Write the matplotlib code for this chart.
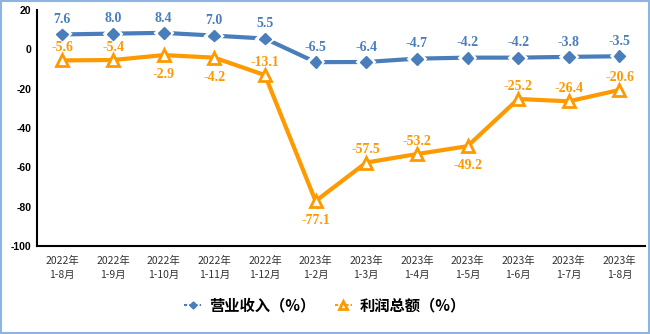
import matplotlib
matplotlib.use("Agg")
import matplotlib.pyplot as plt
import matplotlib.patheffects as pe
from matplotlib.patches import Rectangle

plt.rcParams['font.family'] = ['Noto Sans CJK SC', 'DejaVu Sans']

# data
months = ["2022年\n1-8月", "2022年\n1-9月", "2022年\n1-10月", "2022年\n1-11月", "2022年\n1-12月",
          "2023年\n1-2月", "2023年\n1-3月", "2023年\n1-4月", "2023年\n1-5月", "2023年\n1-6月",
          "2023年\n1-7月", "2023年\n1-8月"]
revenue = [7.6, 8.0, 8.4, 7.0, 5.5, -6.5, -6.4, -4.7, -4.2, -4.2, -3.8, -3.5]
profit = [-5.6, -5.4, -2.9, -4.2, -13.1, -77.1, -57.5, -53.2, -49.2, -25.2, -26.4, -20.6]
# where the profit label sits: 1 above, -1 below
profit_pos = [1, 1, -1, -1, 1, -1, 1, 1, -1, 1, 1, 1]

blue = "#4A7EBB"
orange = "#FF9900"

fig = plt.figure(figsize=(6.5, 3.34), dpi=100)
ax = fig.add_axes([0.057, 0.263, 0.935, 0.707])

x = list(range(len(months)))
ax.plot(x, revenue, color=blue, lw=3, marker="D", ms=6, mfc=blue, mec=blue,
        path_effects=[pe.Stroke(linewidth=4.5, foreground="white"), pe.Normal()], zorder=3,
        label="营业收入（%）")
ax.plot(x, profit, color=orange, lw=3, marker="^", ms=9, mfc="white", mec=orange, mew=2,
        zorder=3, label="利润总额（%）")

for i, v in enumerate(revenue):
    ax.annotate(f"{v:.1f}", (i, v), xytext=(0, 6), textcoords="offset points",
                ha="center", va="bottom", color=blue, fontsize=10, fontweight="bold",
                family="Liberation Serif", zorder=4)
for i, v in enumerate(profit):
    off = 4.5 if profit_pos[i] > 0 else -9.5
    ax.annotate(f"{v:.1f}", (i, v), xytext=(0, off), textcoords="offset points",
                ha="center", va="bottom" if off > 0 else "top", color=orange,
                fontsize=10, fontweight="bold", family="Liberation Serif", zorder=4)

ax.set_xlim(-0.5, len(months) - 0.5)
ax.set_ylim(-100, 20)
ax.set_yticks(range(-100, 21, 20))
ax.set_yticklabels([str(t) for t in range(-100, 21, 20)], fontsize=7.5, fontweight="bold",
                   family="Liberation Sans")
ax.set_xticks(x)
ax.set_xticklabels(months, fontsize=7.5, color="#333333", linespacing=1.5)
ax.tick_params(axis="both", length=0, pad=4)
ax.tick_params(axis="x", pad=7)

for s in ["top", "right"]:
    ax.spines[s].set_visible(False)
for s in ["left", "bottom"]:
    ax.spines[s].set_linewidth(1.5)
    ax.spines[s].set_color("black")

leg = fig.legend(loc="center", bbox_to_anchor=(0.5, 0.085), ncol=2, frameon=False,
                 prop={"size": 11, "weight": "bold"}, handlelength=1.1, handletextpad=0.5,
                 columnspacing=1.3, markerscale=0.6)
for h in leg.legend_handles:
    h.set_linewidth(1.5)
    h.set_linestyle((0, (1.5, 1)))
    h.set_path_effects([])

fig.patches.append(Rectangle((0.002, 0.003), 0.996, 0.994, transform=fig.transFigure,
                             fill=False, edgecolor="#8EB4E3", lw=1.5))

fig.savefig("out.png", dpi=100)
